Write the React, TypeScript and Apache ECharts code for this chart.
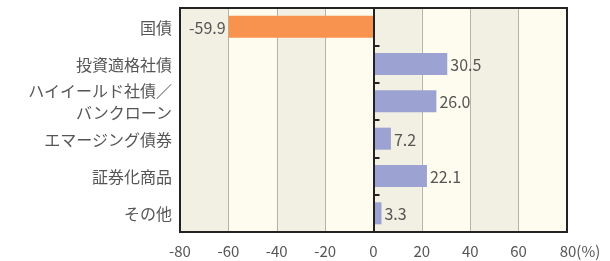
import React, { useEffect, useRef } from "react";
import * as echarts from "echarts";

const categories = [
  "国債",
  "投資適格社債",
  "ハイイールド社債／\nバンクローン",
  "エマージング債券",
  "証券化商品",
  "その他",
];
const values = [-59.9, 30.5, 26.0, 7.2, 22.1, 3.3];
const xTicks = { min: -80, max: 80, interval: 20 };
const unitLabel = "(%)";

const FONT = "'Noto Sans CJK JP', 'Noto Sans', sans-serif";

export default function App() {
  const ref = useRef<HTMLDivElement>(null);
  useEffect(() => {
    if (!ref.current) return;
    const chart = echarts.init(ref.current, undefined, { renderer: "svg" });
    chart.setOption({
      animation: false,
      textStyle: { fontFamily: FONT },
      grid: {
        left: 180,
        right: 43,
        top: 8,
        bottom: 29,
        show: true,
        z: 1,
        borderColor: "#222",
        borderWidth: 2,
        backgroundColor: "transparent",
      },
      xAxis: {
        type: "value",
        min: xTicks.min,
        max: xTicks.max,
        interval: xTicks.interval,
        axisLine: { show: false },
        axisTick: { show: false },
        splitLine: {
          show: true,
          lineStyle: { color: "#b4b4aa", width: 1 },
        },
        splitArea: {
          show: true,
          areaStyle: { color: ["#f2f0e2", "#fdfcee"] },
        },
        axisLabel: {
          color: "#555",
          fontSize: 15,
          margin: 11,
          fontFamily: FONT,
          formatter: (v: number) =>
            v === xTicks.max ? `{u|${v}${unitLabel}}` : `${v}`,
          rich: {
            u: {
              color: "#555",
              fontSize: 15,
              fontFamily: FONT,
              padding: [0, 0, 0, 26],
            },
          },
        },
      },
      yAxis: [
        {
          type: "category",
          inverse: true,
          data: categories,
          axisLine: { show: false, onZero: false },
          axisTick: { show: false },
          splitLine: { show: false },
          axisLabel: {
            color: "#555",
            fontSize: 16,
            lineHeight: 22,
            margin: 8,
            fontFamily: FONT,
          },
        },
        {
          type: "category",
          inverse: true,
          position: "left",
          z: 3,
          data: categories,
          axisLine: { show: true, onZero: true, lineStyle: { color: "#222", width: 2 } },
          axisTick: { show: true, inside: true, length: 6, lineStyle: { color: "#222", width: 2 } },
          axisLabel: { show: false },
          splitLine: { show: false },
        },
      ],
      series: [
        {
          type: "bar",
          yAxisIndex: 0,
          barWidth: 22,
          data: values.map((v) => ({
            value: v,
            itemStyle: { color: v < 0 ? "#f7934f" : "#9ca3d3" },
            label: { position: v < 0 ? "left" : "right" },
          })),
          label: {
            show: true,
            distance: 3,
            color: "#555",
            fontSize: 16,
            fontFamily: FONT,
            formatter: (p: any) => Number(p.value).toFixed(1),
          },
          markLine: {
            silent: true,
            symbol: "none",
            label: { show: false },
            lineStyle: { color: "#222", width: 2, type: "solid" },
            data: [{ xAxis: 0 }],
          },
        },
      ],
    });
    return () => chart.dispose();
  }, []);
  return (
    <div
      ref={ref}
      style={{ position: "fixed", left: 0, top: 0, width: 610, height: 261 }}
    />
  );
}
